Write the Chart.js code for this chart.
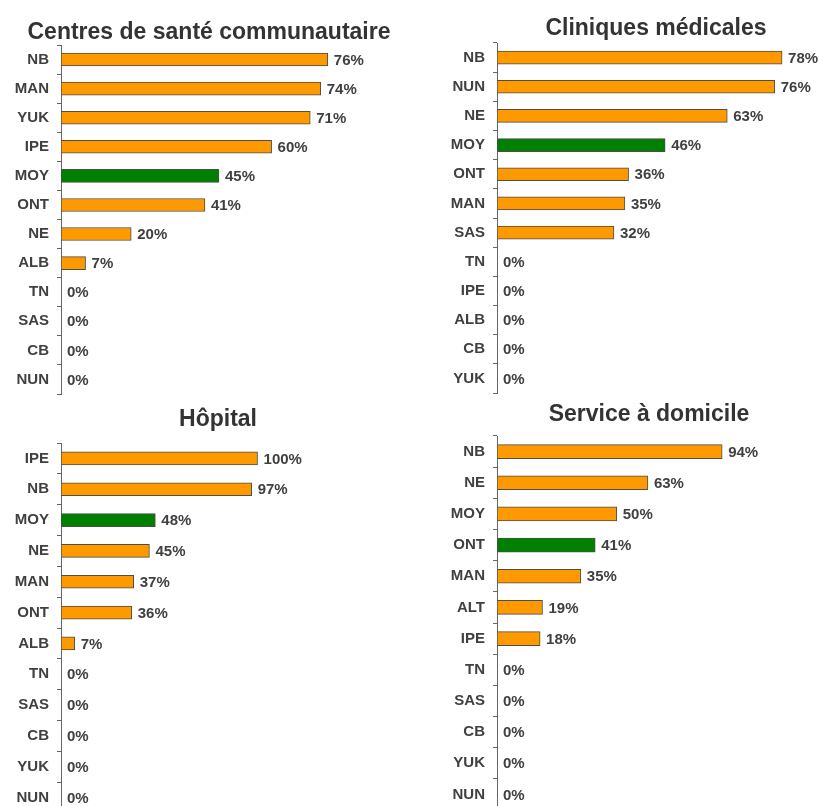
<!DOCTYPE html>
<html lang="fr">
<head>
<meta charset="utf-8">
<title>Répartition par province</title>
<script src="https://cdn.jsdelivr.net/npm/chart.js@4.4.1/dist/chart.umd.min.js"></script>
<style>
  html, body { margin: 0; padding: 0; background: #fff; width: 825px; height: 806px; overflow: hidden; }
  .panneau { position: absolute; }
</style>
</head>
<body>
<div class="panneau" style="left:0px;top:0px"><canvas id="graphe1" width="418" height="396"></canvas></div>
<div class="panneau" style="left:440px;top:0px"><canvas id="graphe2" width="432" height="395"></canvas></div>
<div class="panneau" style="left:0px;top:400px"><canvas id="graphe3" width="436" height="415"></canvas></div>
<div class="panneau" style="left:440px;top:395px"><canvas id="graphe4" width="418" height="417"></canvas></div>
<script>
// Données (en %)
const centresProvinces = ['NB', 'MAN', 'YUK', 'IPE', 'MOY', 'ONT', 'NE', 'ALB', 'TN', 'SAS', 'CB', 'NUN'];
const centresValeurs = [76, 74, 71, 60, 45, 41, 20, 7, 0, 0, 0, 0];

const cliniquesProvinces = ['NB', 'NUN', 'NE', 'MOY', 'ONT', 'MAN', 'SAS', 'TN', 'IPE', 'ALB', 'CB', 'YUK'];
const cliniquesValeurs = [78, 76, 63, 46, 36, 35, 32, 0, 0, 0, 0, 0];

const hopitalProvinces = ['IPE', 'NB', 'MOY', 'NE', 'MAN', 'ONT', 'ALB', 'TN', 'SAS', 'CB', 'YUK', 'NUN'];
const hopitalValeurs = [100, 97, 48, 45, 37, 36, 7, 0, 0, 0, 0, 0];

const domicileProvinces = ['NB', 'NE', 'MOY', 'ONT', 'MAN', 'ALT', 'IPE', 'TN', 'SAS', 'CB', 'YUK', 'NUN'];
const domicileValeurs = [94, 63, 50, 41, 35, 19, 18, 0, 0, 0, 0, 0];

const POLICE = '"Liberation Sans", Arial, sans-serif';
const ORANGE = '#FF9900';
const VERT = '#008000';

Chart.defaults.font.family = POLICE;

// Affiche la valeur au bout de chaque barre
const etiquettesValeurs = {
  id: 'etiquettesValeurs',
  afterDatasetsDraw(chart) {
    const ctx = chart.ctx;
    const meta = chart.getDatasetMeta(0);
    const valeurs = chart.data.datasets[0].data;
    ctx.save();
    ctx.font = 'bold 15px ' + POLICE;
    ctx.fillStyle = '#404040';
    ctx.textAlign = 'left';
    ctx.textBaseline = 'middle';
    meta.data.forEach((barre, i) => {
      ctx.fillText(valeurs[i] + '%', barre.x + 6, barre.y + 1);
    });
    ctx.restore();
  }
};

function crearGrafico(id, titre, provinces, valeurs, enEvidence, reglages) {
  const ctx = document.getElementById(id).getContext('2d');
  return new Chart(ctx, {
    type: 'bar',
    data: {
      labels: provinces,
      datasets: [{
        data: valeurs,
        backgroundColor: provinces.map(p => p === enEvidence ? VERT : ORANGE),
        borderColor: '#4d4d4d',
        borderWidth: 1,
        borderSkipped: false,
        barThickness: reglages.epaisseur
      }]
    },
    options: {
      indexAxis: 'y',
      responsive: false,
      animation: false,
      layout: { padding: { bottom: 2 } },
      plugins: {
        legend: { display: false },
        tooltip: { enabled: false },
        title: {
          display: true,
          text: titre,
          color: '#333333',
          font: { size: 23, weight: 'bold', lineHeight: 1 },
          padding: { top: reglages.titreHaut, bottom: reglages.titreBas }
        }
      },
      scales: {
        x: { display: false, min: 0, max: reglages.max },
        y: {
          offset: true,
          grid: { drawOnChartArea: false, drawTicks: true, tickLength: 4, color: '#666666', offset: true },
          border: { display: true, color: '#666666' },
          ticks: { color: '#404040', padding: 8, font: { size: 15, weight: 'bold' } },
          afterFit: scale => {
            scale.width = reglages.largeurAxe;
            // pas de marge pour les étiquettes en haut et en bas
            scale.paddingTop = 0;
            scale.paddingBottom = 0;
          }
        }
      }
    },
    plugins: [etiquettesValeurs]
  });
}

crearGrafico('graphe1', 'Centres de santé communautaire', centresProvinces, centresValeurs, 'MOY',
  { max: 101.7, largeurAxe: 61, titreHaut: 21, titreBas: 1, epaisseur: 13 });
crearGrafico('graphe2', 'Cliniques médicales', cliniquesProvinces, cliniquesValeurs, 'MOY',
  { max: 102.6, largeurAxe: 57, titreHaut: 17, titreBas: 3, epaisseur: 13 });
crearGrafico('graphe3', 'Hôpital', hopitalProvinces, hopitalValeurs, 'MOY',
  { max: 190.8, largeurAxe: 61, titreHaut: 8, titreBas: 12, epaisseur: 13 });
crearGrafico('graphe4', 'Service à domicile', domicileProvinces, domicileValeurs, 'ONT',
  { max: 150.7, largeurAxe: 57, titreHaut: 8, titreBas: 10, epaisseur: 14 });
</script>
</body>
</html>
